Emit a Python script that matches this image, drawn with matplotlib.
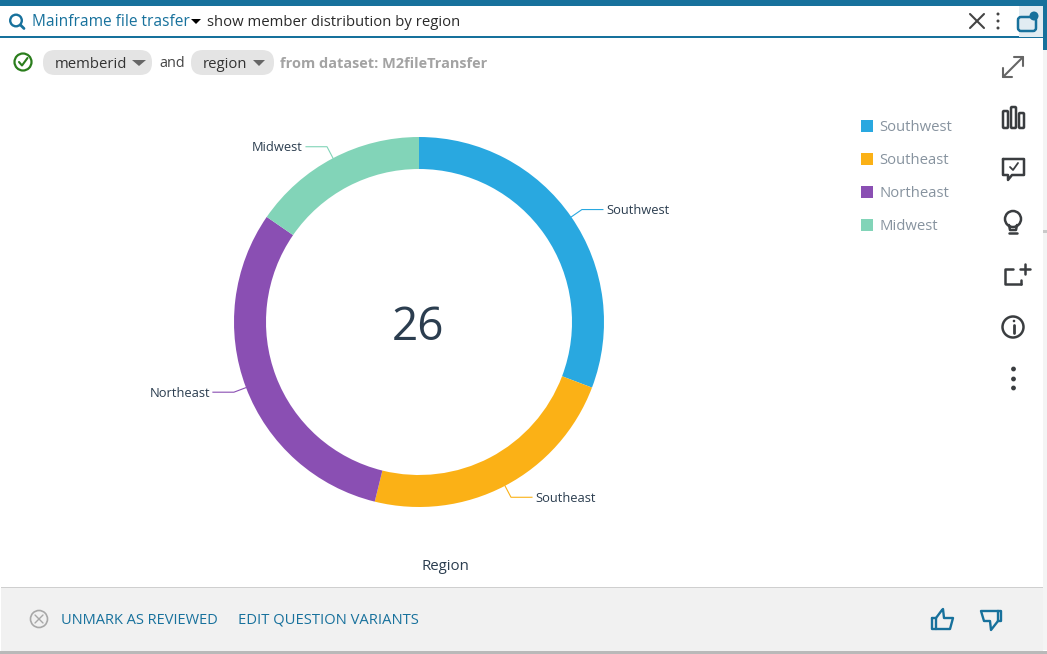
import numpy as np
import matplotlib
matplotlib.use("Agg")
import matplotlib.pyplot as plt
from matplotlib.patches import Rectangle, FancyBboxPatch, Circle, Polygon

plt.rcParams["font.family"] = ["Open Sans", "DejaVu Sans"]

regions = ["Southwest", "Southeast", "Northeast", "Midwest"]
members = [8, 6, 8, 4]
colors = ["#29a8e0", "#fbb116", "#8a4fb3", "#82d4b8"]
total_label = "26"

topic = "Mainframe file trasfer"
question = "show member distribution by region"
fields = ["memberid", "region"]
dataset_note = "from dataset: M2fileTransfer"
axis_title = "Region"
footer_links = ["UNMARK AS REVIEWED", "EDIT QUESTION VARIANTS"]

W, H = 1047, 654
TEAL = "#17719c"
DARK = "#3a3d40"
TEXT = "#2b3d4f"

fig = plt.figure(figsize=(W / 100, H / 100), dpi=100, facecolor="white")

# capa de interfaz en coordenadas de pixel
ui = fig.add_axes([0, 0, 1, 1])
ui.set_xlim(0, W)
ui.set_ylim(H, 0)
ui.axis("off")


def rect(x, y, w, h, color, z=1):
    ui.add_patch(Rectangle((x, y), w, h, facecolor=color, edgecolor="none", zorder=z))


def rounded(x, y, w, h, r, fc="none", ec="none", lw=0, z=2):
    ui.add_patch(FancyBboxPatch((x + r, y + r), w - 2 * r, h - 2 * r,
                                boxstyle=f"round,pad={r}", facecolor=fc,
                                edgecolor=ec, linewidth=lw, zorder=z))


def line(xs, ys, color=DARK, lw=2.0, z=3):
    ui.plot(xs, ys, color=color, lw=lw, zorder=z, solid_capstyle="round",
            solid_joinstyle="round")


def circle(x, y, r, fc="none", ec=DARK, lw=2.0, z=3):
    ui.add_patch(Circle((x, y), r, facecolor=fc, edgecolor=ec, linewidth=lw, zorder=z))


# fondo de la ventana
rect(0, 0, W, 6, TEAL)
rect(1043, 0, 4, 50, TEAL)
rect(1043, 50, 4, 600, "#f4f4f4")
rect(1043, 230, 4, 3, "#c9c9c9")
rect(0, 651, W, 3, "#b9b9b9")
rect(0, 36, 1043, 1.5, TEAL, z=2)
rect(1, 37.5, 1042, 551, "white", z=2)
rect(1, 588, 1042, 63, "#f1f1f1", z=2)
rect(1, 587, 1042, 1, "#cfcfcf", z=3)
rect(0, 6, 1019, 30, "white", z=2)
rect(1019, 6, 24, 31, "#e1ecf2", z=2)

# barra de busqueda
circle(16, 20.5, 5.8, ec=TEAL, lw=1.7)
line([20.5, 24], [25, 28.5], color=TEAL, lw=2.0)
ui.text(32, 22.5, topic, color=TEAL, fontsize=11.2, va="center", zorder=4)
ui.add_patch(Polygon([[191, 19], [201, 19], [196, 24]], facecolor="black", zorder=4))
ui.text(207, 22.5, question, color="#2a2a2a", fontsize=10.7, va="center", zorder=4)
line([970, 984], [14, 28], color="#444444", lw=1.5)
line([970, 984], [28, 14], color="#444444", lw=1.5)
for y in (14, 21, 28):
    circle(998, y, 1.5, fc="#444444", ec="none", lw=0)
rounded(1018, 17, 18, 14, 3, ec=TEAL, lw=1.8, z=3)
circle(1034, 16, 4.5, fc=TEAL, ec="none", lw=0, z=4)

# fila de campos
circle(23, 62, 8.5, ec="#2a7d1c", lw=1.6)
line([19, 22, 27.5], [62, 65.5, 58], color="#2a7d1c", lw=1.5)
rounded(43, 50, 109, 25, 12, fc="#e4e4e4", z=3)
rounded(191, 50, 83, 25, 12, fc="#e4e4e4", z=3)
ui.text(55, 64, fields[0], color="#333333", fontsize=10.7, va="center", zorder=4)
ui.text(203, 64, fields[1], color="#333333", fontsize=10.7, va="center", zorder=4)
ui.add_patch(Polygon([[132, 60], [146, 60], [139, 66]], facecolor="#666666", zorder=4))
ui.add_patch(Polygon([[253, 60], [265, 60], [259, 66]], facecolor="#666666", zorder=4))
ui.text(159, 63.5, "and", color="#444444", fontsize=10.4, va="center", zorder=4)
ui.text(280, 63.5, dataset_note, color="#a3a3a3", fontsize=10.45, fontweight="bold",
        va="center", zorder=4)

# leyenda
for i, (name, color) in enumerate(zip(regions, colors)):
    y = 126 + 33 * i
    rect(861, y - 6, 12, 12, color, z=3)
    ui.text(879.5, y + 1.2, name, color="#87939f", fontsize=10.7, va="center", zorder=4)

# iconos de la derecha
line([1003, 1023], [77, 57], color="#666666", lw=1.5)
line([1014, 1023, 1023], [57, 57, 66], color="#666666", lw=1.5)
line([1003, 1003, 1012], [68, 77, 77], color="#666666", lw=1.5)
for x, y0 in ((1003, 111), (1011, 107), (1019, 113)):
    rounded(x, y0, 5, 128 - y0, 1, ec=DARK, lw=1.8, z=3)
line([1003, 1024, 1024, 1012, 1008, 1008, 1003, 1003],
     [159, 159, 175, 175, 180, 175, 175, 159], lw=1.8)
line([1010, 1013, 1018], [167, 170, 163], lw=1.3)
circle(1013, 219, 8, lw=1.8)
line([1009, 1017], [233, 233], lw=1.8)
line([1009, 1010, 1016, 1017], [225, 230, 230, 225], lw=1.8)
line([1021, 1021], [280, 284], lw=1.8)
line([1013, 1005, 1005, 1021], [269, 269, 284, 284], lw=1.8)
line([1025, 1025], [264, 274], lw=1.8)
line([1020, 1030], [269, 269], lw=1.8)
circle(1013, 327, 10.5, lw=1.8)
line([1014, 1014], [325, 333], lw=2)
circle(1014, 321, 1.3, fc=DARK, ec="none", lw=0)
for y in (369, 379, 388):
    circle(1013.5, y, 2.4, fc=DARK, ec="none", lw=0)

# pie de ventana
ui.text(445.5, 566, axis_title, color=TEXT, fontsize=10.8, ha="center", va="center", zorder=4)
circle(39, 619, 8.5, ec="#a8a8a8", lw=1.2)
line([35, 43], [615, 623], color="#a8a8a8", lw=1)
line([35, 43], [623, 615], color="#a8a8a8", lw=1)
ui.text(61, 620, footer_links[0], color=TEAL, fontsize=10.5, va="center", zorder=4)
ui.text(238, 620, footer_links[1], color=TEAL, fontsize=10.6, va="center", zorder=4)
line([932, 936, 936, 932, 932], [618, 618, 629, 629, 618], color=TEAL, lw=1.7)
line([936, 942, 943, 944, 953, 950, 936],
     [618, 610, 609, 618, 618, 629, 629], color=TEAL, lw=1.7)
line([998, 1001, 1001, 998, 998], [611, 611, 621, 621, 611], color=TEAL, lw=1.7)
line([998, 981, 984, 990, 991, 998],
     [611, 611, 621, 621, 630, 621], color=TEAL, lw=1.7)

# donut
cx, cy, radius, half = 419, 322, 185, 215
ax = fig.add_axes([(cx - half) / W, 1 - (cy + half) / H, 2 * half / W, 2 * half / H])
ax.patch.set_alpha(0)
wedges, _ = ax.pie(members, colors=colors, startangle=90, counterclock=False,
                   radius=radius, wedgeprops={"width": 32, "linewidth": 0})
ax.set_xlim(-half, half)
ax.set_ylim(-half, half)
ax.axis("off")

ax.text(-0.5, -6, total_label, color=TEXT, fontsize=33, ha="center", va="center")

# etiquetas con linea guia desde el centro de cada sector
for wedge, name, color in zip(wedges, regions, colors):
    ang = np.deg2rad((wedge.theta1 + wedge.theta2) / 2)
    x0, y0 = radius * np.cos(ang), radius * np.sin(ang)
    x1, y1 = 1.07 * x0, 1.07 * y0
    side = 1 if x0 > 0 else -1
    x2 = x1 + side * 21
    ax.plot([x0, x1, x2], [y0, y1, y1], color=color, lw=0.8)
    ax.text(x2 + side * 3, y1 - 1, name, color=TEXT, fontsize=9.3, va="center",
            ha="left" if side > 0 else "right")

fig.savefig("out.png", dpi=100)
